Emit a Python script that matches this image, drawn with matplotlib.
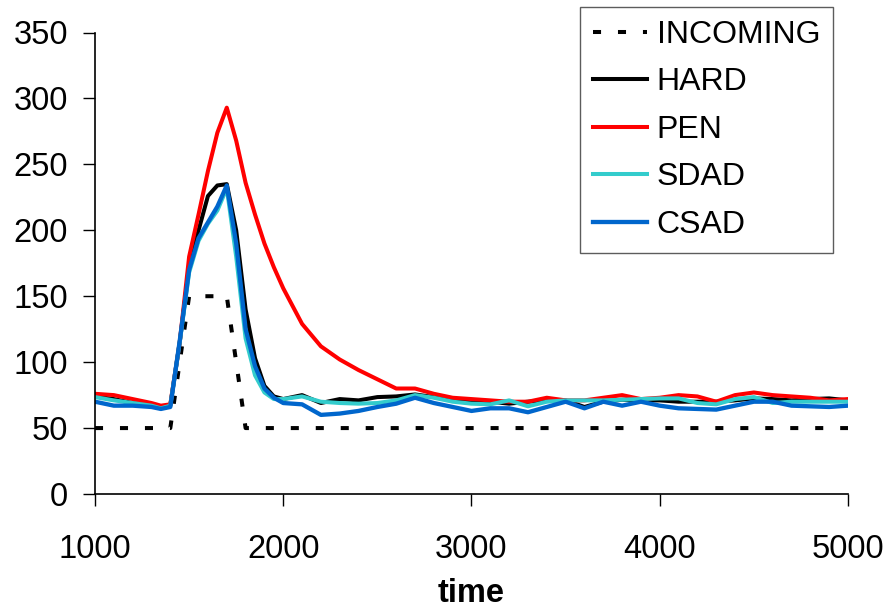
import matplotlib
matplotlib.use("Agg")
import matplotlib.pyplot as plt

plt.rcParams['font.family'] = ['Liberation Sans', 'DejaVu Sans']

# incoming load (step profile)
time_in = [1000, 1400, 1500, 1700, 1800, 5000]
incoming = [50, 50, 150, 150, 50, 50]

# shared time grid for the measured series
time = [1000, 1100, 1200, 1300, 1350, 1400, 1450, 1500, 1550, 1600, 1650, 1700,
        1750, 1800, 1850, 1900, 1950, 2000, 2100, 2200, 2300, 2400, 2500, 2600,
        2700, 2800, 2900, 3000, 3100, 3200, 3300, 3400, 3500, 3600, 3700, 3800,
        3900, 4000, 4100, 4200, 4300, 4400, 4500, 4600, 4700, 4800, 4900, 5000]

hard = [74, 72, 69, 67, 65, 67, 115, 172, 200, 226, 234, 235,
        200, 140, 103, 82, 74, 72, 75, 69, 72, 71, 73.5, 74,
        75.5, 73.5, 72, 71, 70, 68.5, 70, 71, 71, 66, 70, 71.5,
        71, 71, 70, 70, 70, 71, 72.5, 72, 71, 72, 72.5, 71]

pen = [76, 75, 72, 69, 67, 68, 115, 180, 212, 245, 274, 293,
       268, 236, 212, 190, 172, 156, 129, 112, 102, 94, 87, 80,
       80, 76, 73, 72, 71, 70, 70, 73, 71, 71, 73, 75,
       72, 73, 75, 74, 70, 75, 77, 75, 74, 73, 71, 72]

sdad = [73.5, 71, 69, 67, 65, 67, 115, 168, 192, 205, 215, 232,
        180, 118, 90, 77, 72, 72, 74, 70, 69, 68.5, 69, 71,
        75, 73, 70, 68.5, 68, 71, 66.5, 70, 71, 71, 71, 71.5,
        72, 72.5, 72.5, 69, 68, 72, 73.5, 69, 70, 70, 70, 70]

csad = [70, 67, 67, 66, 64.5, 66, 116, 170, 194, 206, 218, 234,
        190, 125, 97, 80, 73, 69, 68, 60, 61, 63, 66, 68.5,
        73, 69, 66, 63, 65, 65, 62, 66, 70, 65, 70, 67,
        70, 67, 65, 64.5, 64, 67, 70, 70, 67, 66.5, 66, 67]

fig = plt.figure(figsize=(8.87, 6.10), dpi=100)
ax = fig.add_axes([95 / 887, 1 - 494 / 610, 753 / 887, 461.5 / 610])

lw = 2.9
ax.plot(time_in, incoming, color="black", lw=lw, linestyle=(0, (2.0, 4.2)),
        label="INCOMING")
ax.plot(time, hard, color="black", lw=lw, label="HARD")
ax.plot(time, pen, color="#FF0000", lw=lw, label="PEN")
ax.plot(time, sdad, color="#33CCCC", lw=lw, label="SDAD")
ax.plot(time, csad, color="#0066CC", lw=lw + 0.2, label="CSAD")

ax.set_xlim(1000, 5000)
ax.set_ylim(0, 350)
ax.set_xticks([1000, 2000, 3000, 4000, 5000])
ax.set_yticks(range(0, 351, 50))
ax.spines['top'].set_visible(False)
ax.spines['right'].set_visible(False)
for s in ('left', 'bottom'):
    ax.spines[s].set_linewidth(1.2)
ax.tick_params(axis='both', direction='out', length=8.5, width=1,
               labelsize=23.5)
ax.tick_params(axis='y', pad=11)
ax.tick_params(axis='x', pad=20)
ax.set_xlabel("time", fontsize=23.5, fontweight="bold", labelpad=10)

leg = ax.legend(loc="upper right", bbox_to_anchor=(833 / 887, 1 - 7 / 610),
                bbox_transform=fig.transFigure, fontsize=23, frameon=True,
                fancybox=False, borderaxespad=0, handlelength=1.7,
                handletextpad=0.3, labelspacing=0.55, borderpad=0.4)
leg.get_frame().set_edgecolor("#333333")
leg.get_frame().set_linewidth(1)

fig.savefig("out.png", dpi=100)
